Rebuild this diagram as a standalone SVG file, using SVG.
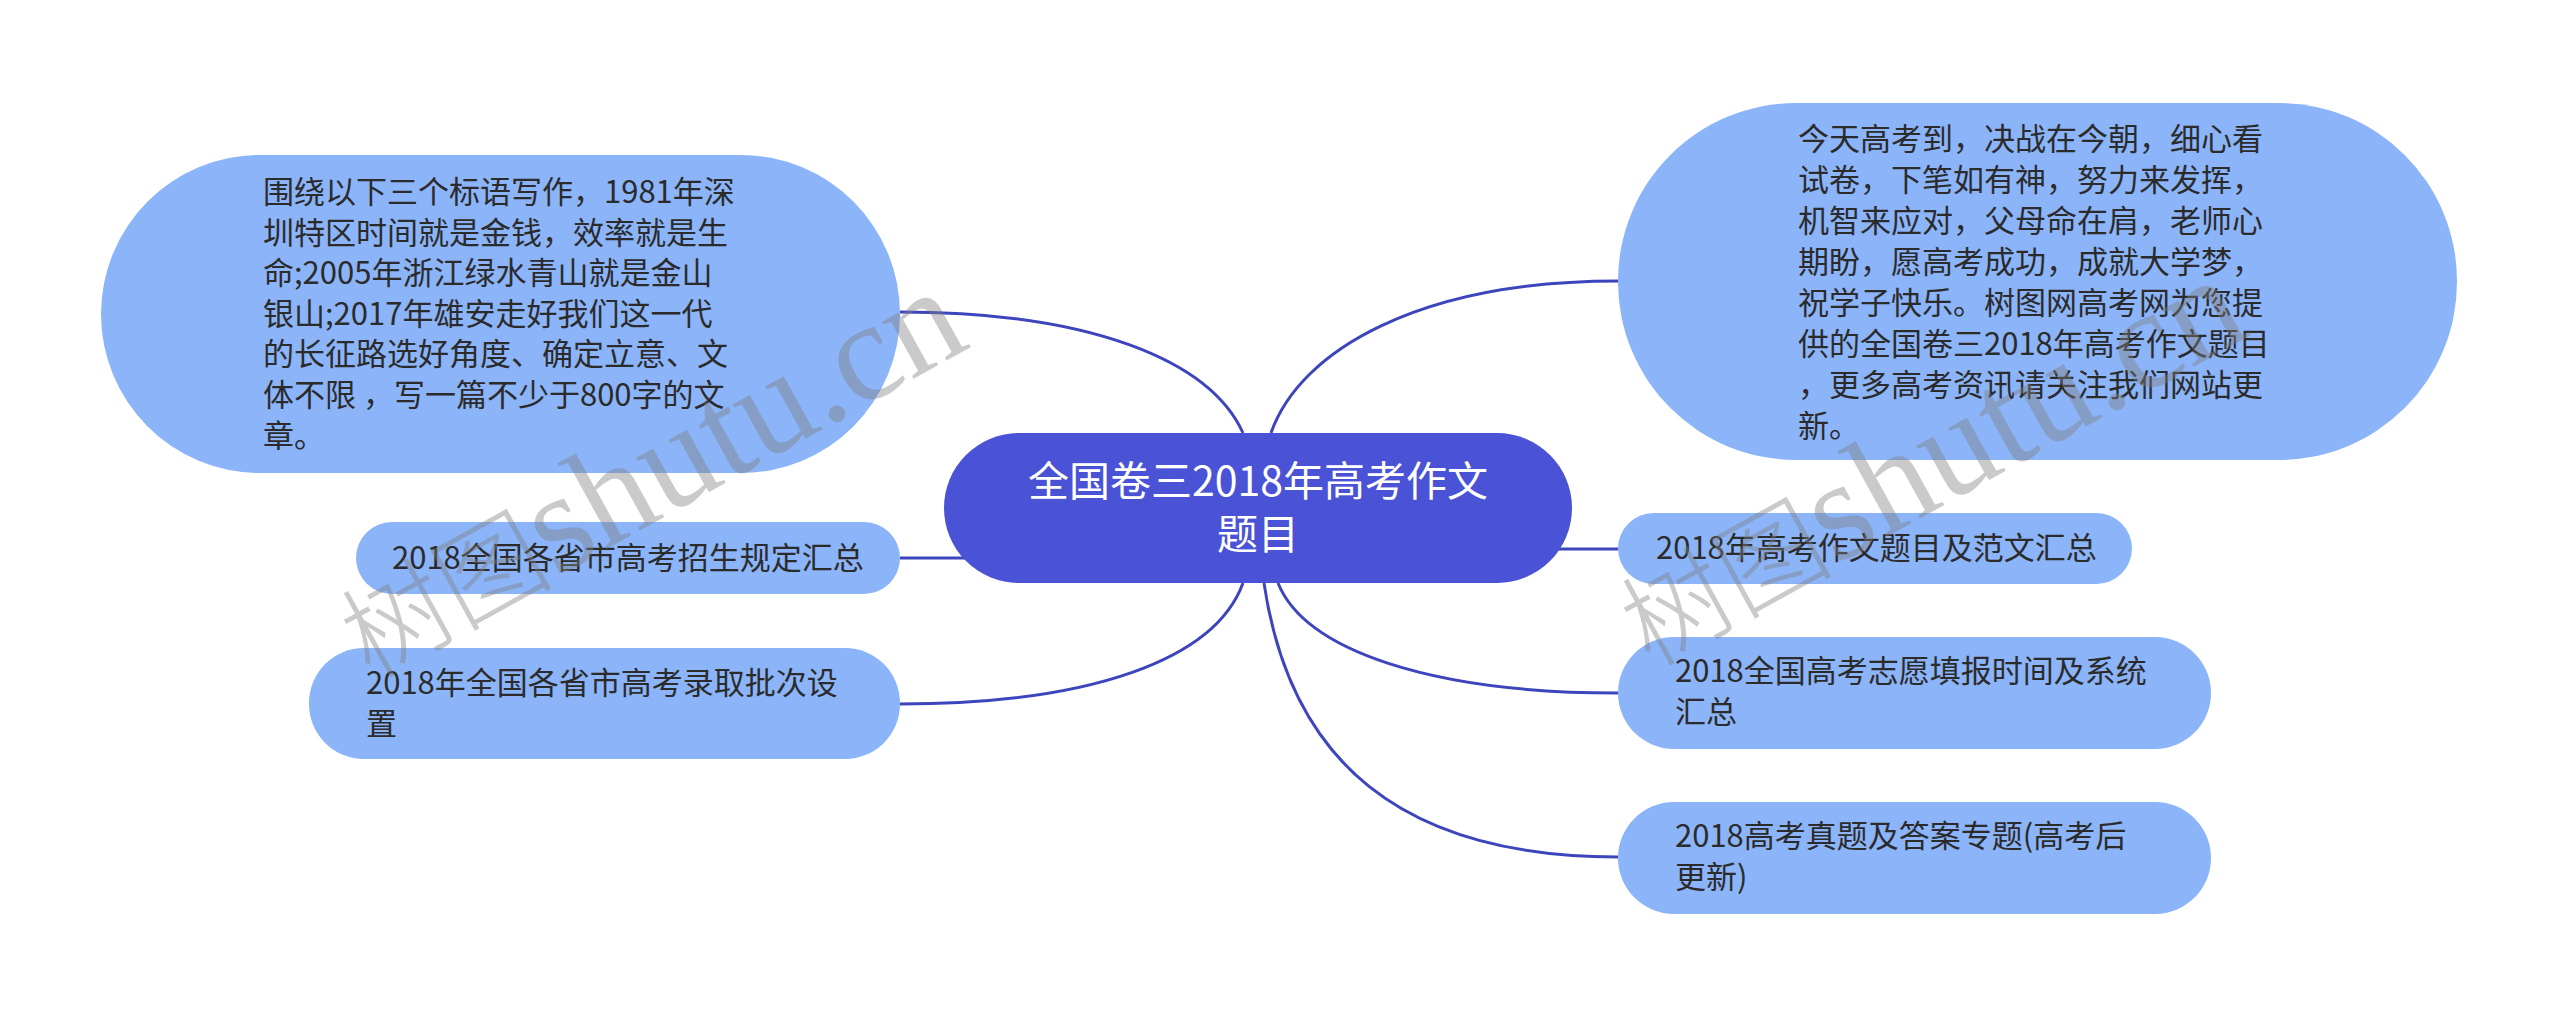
<svg xmlns="http://www.w3.org/2000/svg" width="2560" height="1017" viewBox="0 0 2560 1017">
<style>
.bg{fill:#ffffff}
.node{fill:#8bb4f9}
.root{fill:#4a52d6}
.t{font-family:"Noto Sans CJK SC","Noto Sans",sans-serif;font-size:31px;fill:#2b2b2b}
.rt{font-family:"Noto Sans CJK SC","Noto Sans",sans-serif;font-size:41px;fill:#ffffff;text-anchor:middle}
.edge{fill:none;stroke:#3d45bd;stroke-width:3}
.wm{fill:#808080;fill-opacity:0.42}
.wmc{font-family:"Noto Sans CJK SC",sans-serif;font-size:106px;font-weight:300}
.wml{font-family:"Liberation Serif",serif;font-size:142px}
</style>
<rect class="bg" x="0" y="0" width="2560" height="1017"/>
<g id="connectors">
<path class="edge" d="M1243 433 C1210 360,1090 312,900 312"/>
<path class="edge" d="M1271 433 C1300 350,1420 281,1618 281"/>
<path class="edge" d="M966 558 L900 558"/>
<path class="edge" d="M1243 583 C1215 660,1090 704,900 704"/>
<path class="edge" d="M1556 549 L1618 549"/>
<path class="edge" d="M1278 583 C1305 650,1430 693,1618 693"/>
<path class="edge" d="M1264 583 C1290 760,1400 857,1618 857"/>
</g>
<g id="root">
<rect class="root" x="944" y="433" width="628" height="150" rx="75"/>
<text class="rt" x="1258" y="496">全国卷三2018年高考作文</text>
<text class="rt" x="1258" y="549">题目</text>
</g>
<g id="n-left-1">
<rect class="node" x="101" y="155" width="799" height="318" rx="159"/>
<text class="t" xml:space="preserve"><tspan x="263" y="203">围绕以下三个标语写作，1981年深</tspan><tspan x="263" y="243.6">圳特区时间就是金钱，效率就是生</tspan><tspan x="263" y="284.2">命;2005年浙江绿水青山就是金山</tspan><tspan x="263" y="324.8">银山;2017年雄安走好我们这一代</tspan><tspan x="263" y="365.4">的长征路选好角度、确定立意、文</tspan><tspan x="263" y="406">体不限 ，写一篇不少于800字的文</tspan><tspan x="263" y="446.6">章。</tspan></text>
</g>
<g id="n-left-2">
<rect class="node" x="356" y="522" width="544" height="72" rx="36"/>
<text class="t" x="392" y="569">2018全国各省市高考招生规定汇总</text>
</g>
<g id="n-left-3">
<rect class="node" x="309" y="648" width="591" height="111" rx="55"/>
<text class="t"><tspan x="366" y="694">2018年全国各省市高考录取批次设</tspan><tspan x="366" y="735">置</tspan></text>
</g>
<g id="n-right-1">
<rect class="node" x="1618" y="103" width="839" height="357" rx="178"/>
<text class="t"><tspan x="1798" y="150">今天高考到，决战在今朝，细心看</tspan><tspan x="1798" y="191">试卷，下笔如有神，努力来发挥，</tspan><tspan x="1798" y="232">机智来应对，父母命在肩，老师心</tspan><tspan x="1798" y="273">期盼，愿高考成功，成就大学梦，</tspan><tspan x="1798" y="314">祝学子快乐。树图网高考网为您提</tspan><tspan x="1798" y="355">供的全国卷三2018年高考作文题目</tspan><tspan x="1798" y="396">，更多高考资讯请关注我们网站更</tspan><tspan x="1798" y="437">新。</tspan></text>
</g>
<g id="n-right-2">
<rect class="node" x="1618" y="513" width="514" height="71" rx="35.5"/>
<text class="t" x="1656" y="559">2018年高考作文题目及范文汇总</text>
</g>
<g id="n-right-3">
<rect class="node" x="1618" y="637" width="593" height="112" rx="56"/>
<text class="t"><tspan x="1675" y="682">2018全国高考志愿填报时间及系统</tspan><tspan x="1675" y="723">汇总</tspan></text>
</g>
<g id="n-right-4">
<rect class="node" x="1618" y="802" width="593" height="112" rx="56"/>
<text class="t"><tspan x="1675" y="847">2018高考真题及答案专题(高考后</tspan><tspan x="1675" y="888">更新)</tspan></text>
</g>
<g id="watermarks" class="wm">
<text transform="translate(370 680) rotate(-29)"><tspan class="wmc">树图</tspan><tspan class="wml">shutu.cn</tspan></text>
<text transform="translate(1650 668) rotate(-29)"><tspan class="wmc">树图</tspan><tspan class="wml">shutu.cn</tspan></text>
</g>
</svg>
